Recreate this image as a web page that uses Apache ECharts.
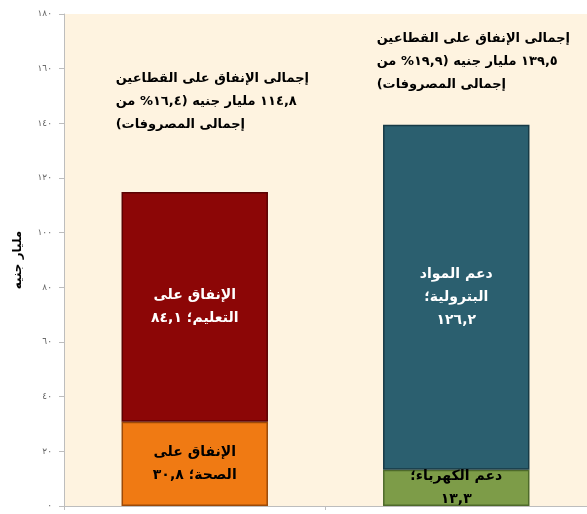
<!DOCTYPE html>
<html>
<head>
<meta charset="utf-8">
<script src="https://cdn.jsdelivr.net/npm/echarts@6/dist/echarts.min.js"></script>
<style>
  html, body { margin: 0; padding: 0; background: #ffffff; }
  #chart { width: 587px; height: 514px; }
</style>
</head>
<body>
<div id="chart"></div>
<script>
// بيانات الرسم
const categories = ['التعليم والصحة', 'دعم الطاقة'];
const bottomNames = ['الإنفاق على\nالصحة', 'دعم الكهرباء'];
const bottomValues = [30.8, 13.3];
const topNames = ['الإنفاق على\nالتعليم', 'دعم المواد\nالبترولية'];
const topValues = [84.1, 126.2];
const totals = [114.8, 139.5];
const shares = [16.4, 19.9];

// أرقام هندية
const toArabic = (v) => String(v).replace(/\d/g, d => '٠١٢٣٤٥٦٧٨٩'[d]).replace('.', ',');
// كل سطر من اليمين لليسار
const rtl = (s) => s.split('\n').map(l => '\u202B' + l + '\u202C').join('\n');

const chart = echarts.init(document.getElementById('chart'));
const font = '"DejaVu Sans", sans-serif';

const noteText = (i) => rtl('إجمالى الإنفاق على القطاعين\n' + toArabic(totals[i]) + ' مليار جنيه (' +
  toArabic(shares[i]) + '% من\nإجمالى المصروفات)');

const option = {
  backgroundColor: '#ffffff',
  grid: { left: 64, right: -3, top: 14, bottom: 8, show: true, backgroundColor: '#fef3e0', borderWidth: 0 },
  xAxis: {
    type: 'category',
    data: categories,
    axisLine: { lineStyle: { color: '#bdbdbd' } },
    axisTick: { show: true, alignWithLabel: false, length: 4, lineStyle: { color: '#bdbdbd' } },
    axisLabel: { show: false }
  },
  yAxis: {
    type: 'value',
    min: 0, max: 180, interval: 20,
    name: 'مليار جنيه',
    nameLocation: 'middle',
    nameGap: 40,
    nameTextStyle: { fontFamily: font, fontWeight: 'bold', fontSize: 12, color: '#000' },
    axisLine: { show: true, lineStyle: { color: '#bdbdbd' } },
    axisTick: { show: true, length: 5, lineStyle: { color: '#bdbdbd' } },
    splitLine: { show: false },
    axisLabel: { formatter: v => toArabic(v), fontFamily: font, fontSize: 9, color: '#666', margin: 12 }
  },
  series: [
    {
      name: 'bottom', type: 'bar', stack: 'total', barWidth: '56%',
      data: bottomValues.map((v, i) => ({
        value: v,
        itemStyle: { color: i === 0 ? '#f07a13' : '#7d9c48', borderColor: i === 0 ? '#9c4a08' : '#4e6a2a', borderWidth: 1.5 }
      })),
      label: {
        show: true, position: 'inside', color: '#000', fontFamily: font, fontWeight: 'bold', fontSize: 14, lineHeight: 23,
        formatter: p => rtl(bottomNames[p.dataIndex] + '؛' + (p.dataIndex === 0 ? ' ' : '\n') + toArabic(p.value))
      }
    },
    {
      name: 'top', type: 'bar', stack: 'total',
      data: topValues.map((v, i) => ({
        value: v,
        itemStyle: { color: i === 0 ? '#8c0606' : '#2b5f6f', borderColor: i === 0 ? '#5a0202' : '#173a46', borderWidth: 1.5 }
      })),
      label: {
        show: true, position: 'inside', color: '#fff', fontFamily: font, fontWeight: 'bold', fontSize: 14, lineHeight: 23,
        formatter: p => rtl(topNames[p.dataIndex] + '؛' + (p.dataIndex === 0 ? ' ' : '\n') + toArabic(p.value))
      }
    }
  ],
  graphic: [
    {
      type: 'text', right: 587 - 309, top: 67,
      style: { text: noteText(0), align: 'right', fontFamily: font, fontWeight: 'bold', fontSize: 13, lineHeight: 23, fill: '#000' }
    },
    {
      type: 'text', right: 587 - 570, top: 27,
      style: { text: noteText(1), align: 'right', fontFamily: font, fontWeight: 'bold', fontSize: 13, lineHeight: 23, fill: '#000' }
    }
  ]
};

chart.setOption(option);
</script>
</body>
</html>
